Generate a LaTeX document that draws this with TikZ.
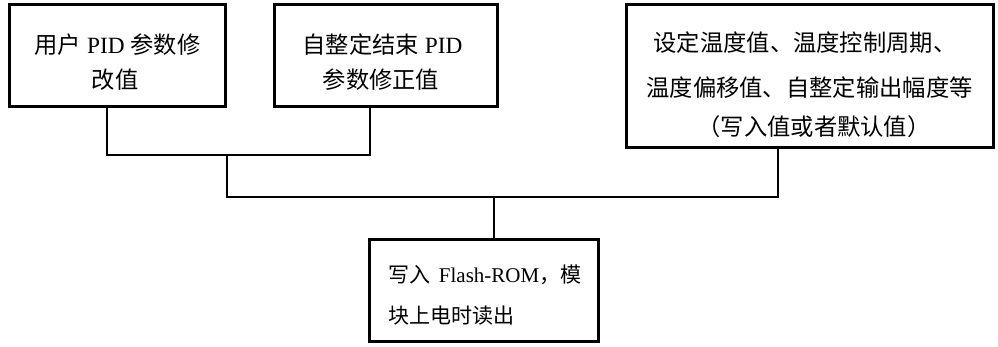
\documentclass[tikz,border=0pt]{standalone}
\usepackage{fontspec}
\setmainfont{Liberation Serif}
\newfontfamily\cjk{Noto Sans CJK SC}
\begin{document}
\begin{tikzpicture}[x=1pt,y=-1pt,
  box/.style={draw,line width=3pt,rectangle,inner sep=0pt},
  wire/.style={line width=1.6pt},
  txt/.style={inner sep=0pt,anchor=base,font=\fontsize{23.3}{27}\selectfont},
  txtl/.style={txt,anchor=base west,font=\fontsize{21}{25}\selectfont}]
\useasboundingbox (0,0) rectangle (998,347);
% boxes
\node[box,minimum width=216pt,minimum height=102pt] (boxA) at (117.5,55.5) {};
\node[box,minimum width=223pt,minimum height=102pt] (boxB) at (386,55.5) {};
\node[box,minimum width=367pt,minimum height=143pt] (boxC) at (810,76) {};
\node[box,minimum width=229pt,minimum height=102pt] (boxD) at (484,290.5) {};
% texts
\node[txt] (a1) at (117.5,54) {{\cjk 用户} PID {\cjk 参数修}};
\node[txt] (a2) at (115,89) {\cjk 改值};
\node[txt] (b1) at (382.5,54) {{\cjk 自整定结束} PID};
\node[txt] (b2) at (381,89) {\cjk 参数修正值};
\node[txt] (c1) at (805,52) {\cjk 设定温度值、温度控制周期、};
\node[txt] (c2) at (809.5,97) {\cjk 温度偏移值、自整定输出幅度等};
\node[txt] (c3) at (814,136) {\cjk （写入值或者默认值）};
\node[txtl] (d1) at (388,283) {{\cjk 写入}\ \,Flash-ROM{\cjk ，模}};
\node[txtl] (d2) at (388,323) {\cjk 块上电时读出};
% connectors
\coordinate (pa) at (107,0);
\coordinate (pb) at (370,0);
\coordinate (pc) at (778,0);
\coordinate (j1) at (227,155);
\coordinate (j2) at (494,197);
\draw[wire] (boxA.south -| pa) -- (pa |- j1) -- (pb |- j1) -- (boxB.south -| pb);
\draw[wire] (j1) -- (j1 |- j2) -- (pc |- j2) -- (boxC.south -| pc);
\draw[wire] (j2) -- (boxD.north -| j2);
\end{tikzpicture}
\end{document}
